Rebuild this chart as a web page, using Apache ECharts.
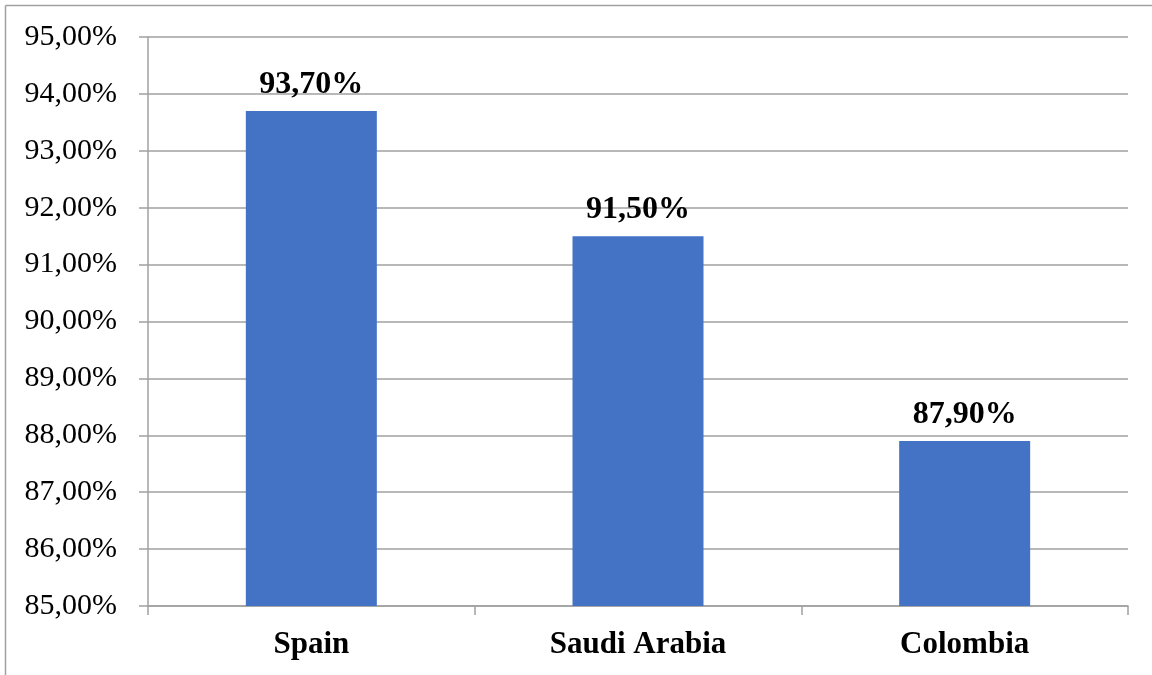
<!DOCTYPE html>
<html><head><meta charset="utf-8">
<script src="https://cdn.jsdelivr.net/npm/echarts@6/dist/echarts.min.js"></script>
<style>html,body{margin:0;padding:0;background:#fff}#c{width:1152px;height:675px}</style>
</head><body><div id="c"></div>
<script>
const categories = ['Spain', 'Saudi Arabia', 'Colombia'];
const values = [93.7, 91.5, 87.9];
const yMin = 85, yMax = 95, yStep = 1;

const fmt = v => v.toFixed(2).replace('.', ',') + '%';
const chart = echarts.init(document.getElementById('c'));
chart.setOption({
  animation: false,
  backgroundColor: '#fff',
  grid: { left: 148, right: 24, top: 37, bottom: 69 },
  graphic: [
    { type: 'line', shape: { x1: 5.5, y1: 5.5, x2: 1152, y2: 5.5 }, style: { stroke: '#a0a0a0', lineWidth: 1.5 } },
    { type: 'line', shape: { x1: 5.5, y1: 5.5, x2: 5.5, y2: 675 }, style: { stroke: '#a0a0a0', lineWidth: 1.5 } }
  ],
  xAxis: {
    type: 'category', data: categories,
    axisLine: { lineStyle: { color: '#a0a0a0', width: 1.5 } },
    axisTick: { show: true, length: 9, lineStyle: { color: '#a0a0a0', width: 1.5 } },
    axisLabel: { color: '#000', fontFamily: 'Liberation Serif', fontWeight: 'bold', fontSize: 31, margin: 23 }
  },
  yAxis: {
    type: 'value', min: yMin, max: yMax, interval: yStep,
    axisLine: { show: true, lineStyle: { color: '#a0a0a0', width: 1.5 } },
    axisTick: { show: true, length: 9, lineStyle: { color: '#a0a0a0', width: 1.5 } },
    splitLine: { lineStyle: { color: '#a0a0a0', width: 1.5 } },
    axisLabel: { color: '#000', fontFamily: 'Liberation Serif', fontSize: 30, margin: 31, formatter: fmt }
  },
  series: [{
    type: 'bar', data: values, barWidth: 131,
    itemStyle: { color: '#4472C4' },
    label: { show: true, position: 'top', distance: 10, color: '#000', fontFamily: 'Liberation Serif', fontWeight: 'bold', fontSize: 32, formatter: p => fmt(p.value) }
  }]
});
</script></body></html>
